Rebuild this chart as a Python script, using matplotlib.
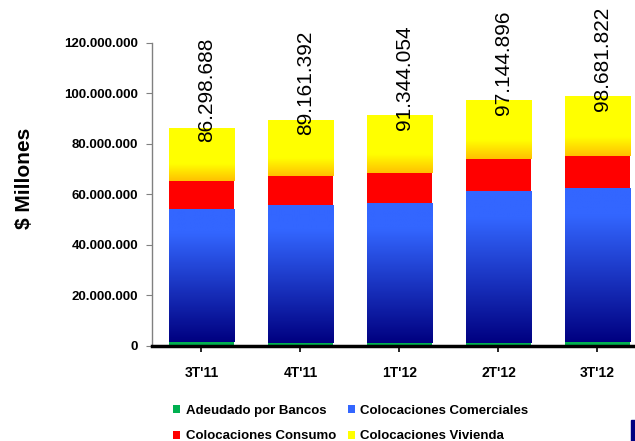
import numpy as np
import matplotlib
matplotlib.use("Agg")
import matplotlib.pyplot as plt
from matplotlib.colors import LinearSegmentedColormap
from matplotlib.patches import Rectangle
from matplotlib.ticker import FuncFormatter

plt.rcParams['font.family'] = ['Liberation Sans', 'DejaVu Sans']

categories = ["3T'11", "4T'11", "1T'12", "2T'12", "3T'12"]
adeudado = [1400000, 1000000, 1000000, 1000000, 1500000]
comerciales = [52700000, 54600000, 55400000, 60200000, 61000000]
consumo = [11000000, 11600000, 11900000, 12700000, 12700000]
vivienda = [21198688, 21961392, 23044054, 23244896, 23481822]
total_labels = ["86.298.688", "89.161.392", "91.344.054", "97.144.896", "98.681.822"]
series_names = ["Adeudado por Bancos", "Colocaciones Comerciales",
                "Colocaciones Consumo", "Colocaciones Vivienda"]

W, H = 635, 441
fig = plt.figure(figsize=(W / 100, H / 100), dpi=100)
ax = fig.add_axes([152 / W, (H - 345.5) / H, (635 - 152) / W, (345.5 - 42.5) / H])

x = np.arange(len(categories))
bw = 0.66

blue_cmap = LinearSegmentedColormap.from_list(
    "blue", [(0, "#000080"), (0.82, "#3366FF"), (1, "#3366FF")])
yellow_cmap = LinearSegmentedColormap.from_list(
    "yellow", [(0, "#FFC000"), (0.32, "#FFFF00"), (1, "#FFFF00")])
grad = np.linspace(0, 1, 256).reshape(-1, 1)

def gradient_bars(bars, cmap):
    for b in bars:
        x0, y0 = b.get_x(), b.get_y()
        w, h = b.get_width(), b.get_height()
        im = ax.imshow(grad, cmap=cmap, origin='lower', aspect='auto',
                       extent=[x0, x0 + w, y0, y0 + h], zorder=2,
                       interpolation='bilinear')
        im.set_clip_path(b)

a = np.array(adeudado, dtype=float)
c = np.array(comerciales, dtype=float)
s = np.array(consumo, dtype=float)
v = np.array(vivienda, dtype=float)

b1 = ax.bar(x, a, bw, color="#00B050", zorder=2, label=series_names[0])
b2 = ax.bar(x, c, bw, bottom=a, color="#3366FF", zorder=1, label=series_names[1])
gradient_bars(b2, blue_cmap)
b3 = ax.bar(x, s, bw, bottom=a + c, color="#FF0000", zorder=2, label=series_names[2])
b4 = ax.bar(x, v, bw, bottom=a + c + s, color="#FFFF00", zorder=1, label=series_names[3])
gradient_bars(b4, yellow_cmap)

tops = a + c + s + v
for i, t in enumerate(total_labels):
    ax.annotate(t, xy=(x[i], tops[i]), xytext=(3.5, 27), textcoords='offset points',
                rotation=90, ha='center', va='center', fontsize=15, zorder=5,
                annotation_clip=False)

ax.set_xlim(-0.5, 4.38)
ax.set_ylim(0, 120000000)
ax.set_yticks(np.arange(0, 120000001, 20000000))
ax.yaxis.set_major_formatter(FuncFormatter(lambda val, p: f"{int(val):,}".replace(",", ".")))
ax.set_xticks(x)
ax.set_xticklabels(categories, fontweight='bold', fontsize=10)
for lbl in ax.get_yticklabels():
    lbl.set_fontweight('bold')
    lbl.set_fontsize(9.5)

for sp in ['top', 'right']:
    ax.spines[sp].set_visible(False)
ax.spines['left'].set_color('#808080')
ax.spines['left'].set_linewidth(1)
ax.spines['bottom'].set_color('black')
ax.spines['bottom'].set_linewidth(2.5)
ax.spines['bottom'].set_zorder(6)
ax.tick_params(axis='y', length=4, color='#808080', pad=6)
ax.tick_params(axis='x', length=4, color='black', width=1.2, pad=11)

fig.text(25 / W, 1 - 178 / H, "$ Millones", rotation=90, fontsize=15,
         fontweight='bold', ha='center', va='center')

handles = [b1, b3, b2, b4]
labels = [series_names[0], series_names[2], series_names[1], series_names[3]]
fig.legend(handles, labels, ncol=2, loc='upper left',
           bbox_to_anchor=(173 / W, 1 - 405 / H), frameon=False,
           prop={'weight': 'bold', 'size': 9.5}, handlelength=0.55, handleheight=0.55,
           handletextpad=0.4, columnspacing=0.9, labelspacing=1.0,
           borderpad=0, borderaxespad=0)

fig.patches.append(Rectangle((631 / W, 0), 4 / W, 21 / H, transform=fig.transFigure,
                             color="#000080", zorder=10))

fig.savefig("out.png", dpi=100)
